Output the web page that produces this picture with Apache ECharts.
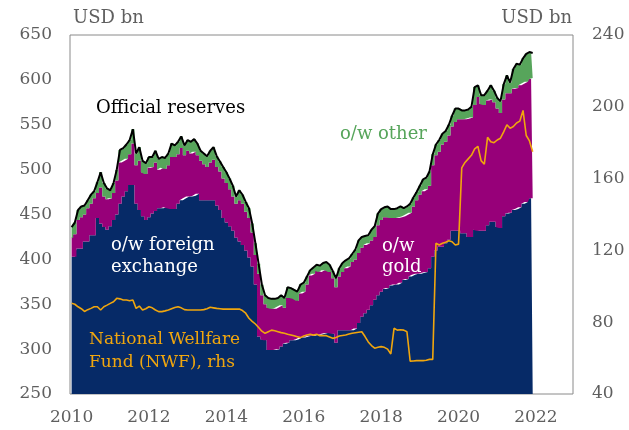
<!DOCTYPE html>
<html>
<head>
<meta charset="utf-8">
<script src="https://cdn.jsdelivr.net/npm/echarts@6/dist/echarts.min.js"></script>
<style>
  html, body { margin: 0; padding: 0; background: #fff; }
  #chart { width: 629px; height: 430px; }
</style>
</head>
<body>
<div id="chart"></div>
<script>
// monthly, Jan 2010 .. Dec 2021, USD bn
var fxReserves = [
  403, 403, 412, 412, 420, 420, 427, 427, 446, 440, 436, 433,
  437, 444, 450, 462, 470, 476, 483, 483, 462, 455, 448, 444,
  447, 451, 454, 457, 457, 458, 457, 456, 456, 462, 466, 468,
  470, 470, 471, 473, 466, 466, 466, 466, 466, 460, 455, 446,
  441, 437, 432, 424, 420, 416, 410, 402, 392, 372, 314, 311,
  310, 299, 299, 299, 300, 303, 306, 307, 310, 310, 311, 313,
  313, 314, 315, 315, 316, 316, 317, 318, 318, 317, 307, 321,
  321, 321, 321, 321, 323, 329, 336, 340, 344, 349, 355, 360,
  364, 367, 368, 371, 372, 372, 374, 377, 378, 381, 383, 384,
  384, 385, 386, 390, 403, 410, 414, 414, 418, 422, 432, 432,
  432, 429, 429, 425, 425, 433, 432, 432, 432, 438, 442, 442,
  436, 435, 448, 451, 452, 455, 456, 458, 462, 464, 468, 468
];
var goldReserves = [
  21, 25, 32, 35, 30, 37, 35, 41, 28, 40, 34, 34,
  31, 30, 38, 46, 40, 36, 34, 46, 43, 55, 49, 51,
  55, 52, 54, 43, 45, 43, 48, 58, 58, 55, 58, 48,
  51, 48, 49, 43, 44, 40, 37, 42, 45, 43, 43, 44,
  44, 41, 38, 38, 46, 46, 43, 44, 38, 33, 70, 49,
  40, 47, 46, 46, 47, 46, 40, 50, 47, 46, 43, 49,
  51, 58, 67, 69, 71, 70, 71, 70, 68, 62, 62, 60,
  65, 69, 71, 76, 77, 78, 77, 76, 74, 72, 70, 78,
  80, 80, 79, 75, 74, 74, 73, 71, 72, 71, 76, 82,
  88, 91, 92, 92, 102, 106, 106, 114, 113, 116, 116, 121,
  124, 127, 127, 132, 133, 139, 149, 141, 140, 139, 136, 133,
  132, 128, 130, 134, 133, 135, 135, 136, 134, 134, 133, 134
];
var otherReserves = [
  12, 13, 11, 12, 10, 9, 10, 8, 12, 17, 15, 12,
  9, 11, 12, 14, 14, 16, 16, 16, 13, 15, 13, 12,
  12, 11, 13, 12, 12, 12, 13, 15, 13, 14, 13, 11,
  12, 13, 14, 13, 11, 12, 12, 13, 14, 12, 11, 13,
  12, 12, 12, 8, 11, 10, 11, 11, 10, 13, 11, 12,
  10, 11, 11, 11, 10, 11, 11, 12, 11, 10, 10, 10,
  10, 9, 6, 7, 7, 7, 8, 9, 8, 8, 10, 9,
  10, 9, 9, 9, 11, 14, 12, 10, 9, 12, 12, 13,
  12, 11, 12, 10, 10, 11, 12, 9, 9, 10, 10, 9,
  10, 13, 13, 16, 12, 12, 13, 12, 12, 12, 12, 15,
  12, 10, 10, 10, 12, 20, 13, 10, 11, 11, 16, 13,
  12, 13, 17, 20, 12, 22, 27, 23, 28, 31, 30, 28
];
var officialReserves = [
  436, 441, 455, 459, 460, 466, 472, 476, 486, 497, 485, 479,
  477, 485, 500, 522, 524, 528, 533, 545, 518, 525, 510, 507,
  514, 514, 521, 512, 514, 513, 518, 529, 527, 531, 537, 527,
  533, 531, 534, 529, 521, 518, 515, 521, 525, 515, 509, 503,
  497, 490, 482, 470, 477, 472, 464, 457, 440, 418, 395, 372,
  360, 357, 356, 356, 357, 360, 357, 369, 368, 366, 364, 372,
  374, 381, 388, 391, 394, 393, 396, 397, 394, 387, 379, 390,
  396, 399, 401, 406, 411, 421, 425, 426, 427, 433, 437, 451,
  456, 458, 459, 456, 456, 457, 459, 457, 459, 462, 469, 475,
  482, 489, 491, 498, 517, 528, 533, 540, 543, 550, 560, 568,
  568, 566, 566, 567, 570, 592, 594, 583, 583, 588, 594, 588,
  580, 576, 595, 605, 597, 612, 618, 617, 624, 629, 631, 630
];
// rhs
var nwfFund = [
  90.5, 90, 88.6, 87.5, 86, 87, 87.7, 88.6, 88.6, 86.8, 88.6, 89.5,
  90.5, 91.4, 93.3, 93, 92.4, 92.4, 92, 92.4, 87.7, 89, 86.8, 87.5,
  88.6, 88, 86.8, 85.9, 85.9, 86.3, 86.8, 87.5, 88.2, 88.6, 88, 87,
  86.8, 86.8, 86.8, 86.8, 86.8, 87, 87.5, 88.3, 88, 87.7, 87.5, 87.3,
  87.3, 87.3, 87.3, 87.3, 87.3, 86.5, 85, 82.2, 80.5, 79, 77, 75,
  73.8, 74.7, 75.6, 75.2, 74.7, 74.2, 73.8, 73.3, 72.9, 72.4, 71.9, 71.4,
  72.3, 72.9, 73.3, 72.8, 73.3, 72.5, 72.6, 72.5, 71.8, 71, 71.5, 72.3,
  72.6, 72.9, 73.4, 73.8, 74.1, 74.4, 74.7, 72, 69, 67, 65.5, 66,
  66.4, 66, 65, 62.3, 76.6, 75.6, 75.8, 75.6, 74.7, 58.3, 58.4, 58.6,
  58.6, 58.6, 58.8, 59.3, 59.3, 124, 123, 124, 124.5, 125.4, 124.8, 123,
  123.5, 166, 169, 171, 173, 176.5, 178, 170, 168, 183, 180.5, 180,
  181.5, 182.5, 186, 190, 188, 189, 191, 192, 198, 184, 181, 175
];

const FIRST_YEAR = 2010;
const LAST_YEAR = 2022;
const FONT = 'DejaVu Serif';
const NAVY = '#062a67';
const PURPLE = '#970079';
const GREEN = '#57a55b';
const ORANGE = '#f0a60e';

// month slots on the x axis, Jan 2010 .. Dec 2022
var months = [];
for (let y = FIRST_YEAR; y <= LAST_YEAR; y++) {
  for (let m = 1; m <= 12; m++) {
    months.push(y + '-' + (m < 10 ? '0' + m : m));
  }
}

function isYearTick(value) {
  return value.slice(5) === '01' && Number(value.slice(0, 4)) % 2 === 0;
}

function stackArea(name, values, color) {
  return {
    name: name,
    type: 'line',
    stack: 'reserves',
    step: 'middle',
    symbol: 'none',
    lineStyle: { width: 0 },
    areaStyle: { color: color, opacity: 1 },
    data: values,
    z: 1
  };
}

function label(text, left, top, color, size, lineHeight) {
  return {
    type: 'text',
    left: left,
    top: top,
    style: {
      text: text,
      fill: color,
      font: size + 'px "' + FONT + '"',
      lineHeight: lineHeight || size
    },
    z: 10
  };
}

var axisText = { color: '#5f5f5f', fontFamily: FONT, fontSize: 17 };

var option = {
  animation: false,
  grid: {
    left: 70, right: 56, top: 35, bottom: 36,
    show: true, borderColor: '#8a8a8a', borderWidth: 1
  },
  xAxis: {
    type: 'category',
    data: months,
    boundaryGap: true,
    axisLine: { show: false },
    axisTick: { show: false },
    splitLine: { show: false },
    axisLabel: Object.assign({
      margin: 15,
      interval: (i, value) => isYearTick(value),
      formatter: (value) => value.slice(0, 4)
    }, axisText)
  },
  yAxis: [{
    type: 'value',
    min: 250, max: 650, interval: 50,
    axisLine: { show: false },
    axisTick: { show: false },
    splitLine: { show: false },
    axisLabel: Object.assign({ margin: 18 }, axisText)
  }, {
    type: 'value',
    position: 'right',
    min: 40, max: 240, interval: 40,
    axisLine: { show: false },
    axisTick: { show: false },
    splitLine: { show: false },
    axisLabel: Object.assign({ margin: 19 }, axisText)
  }],
  series: [
    stackArea('o/w foreign exchange', fxReserves, NAVY),
    stackArea('o/w gold', goldReserves, PURPLE),
    stackArea('o/w other', otherReserves, GREEN),
    {
      name: 'Official reserves',
      type: 'line',
      symbol: 'none',
      lineStyle: { color: '#000', width: 2 },
      data: officialReserves,
      z: 3
    },
    {
      name: 'National Wellfare Fund (NWF), rhs',
      type: 'line',
      yAxisIndex: 1,
      symbol: 'none',
      lineStyle: { color: ORANGE, width: 1.6 },
      data: nwfFund,
      z: 4
    }
  ],
  graphic: [
    label('USD bn', 73, 9, '#5f5f5f', 18),
    { type: 'text', right: 57, top: 9, z: 10,
      style: { text: 'USD bn', fill: '#5f5f5f', font: '18px "' + FONT + '"' } },
    label('Official reserves', 96, 99, '#000', 18),
    label('o/w other', 340, 125, GREEN, 18),
    label('o/w foreign\nexchange', 111, 234, '#fff', 18, 22),
    label('o/w\ngold', 382, 236, '#fff', 18, 21),
    label('National Wellfare\nFund (NWF), rhs', 89, 328, ORANGE, 17, 23)
  ]
};

var mainChart = echarts.init(document.getElementById('chart'));
mainChart.setOption(option);
</script>
</body>
</html>
